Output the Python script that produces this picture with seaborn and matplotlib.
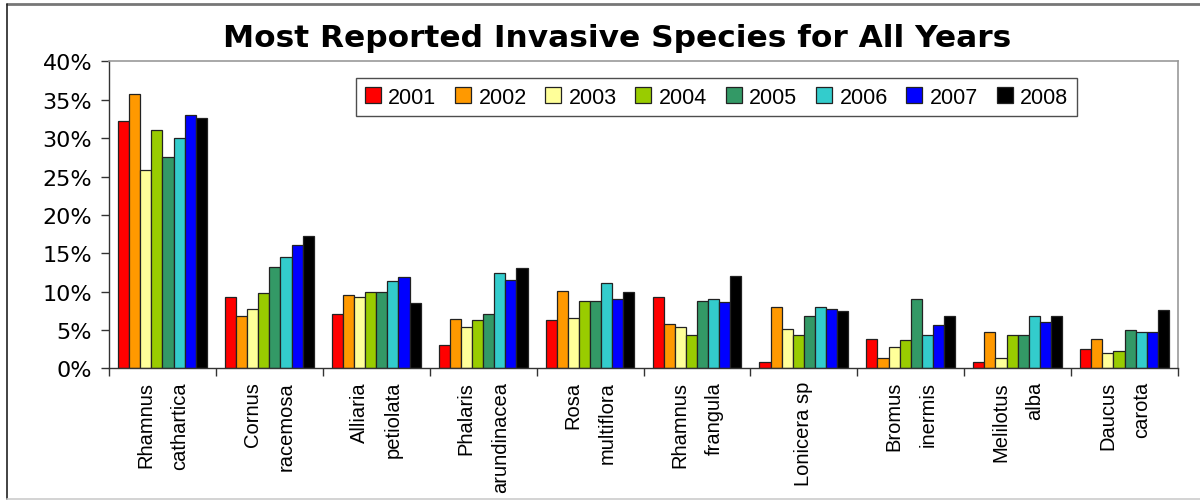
import matplotlib
matplotlib.use("Agg")
import matplotlib.pyplot as plt
import seaborn as sns
import pandas as pd
from matplotlib.lines import Line2D
from matplotlib.ticker import FuncFormatter

# Species (two-line labels as printed under the axis)
SPECIES = [
    "Rhamnus\ncathartica",
    "Cornus\nracemosa",
    "Alliaria\npetiolata",
    "Phalaris\narundinacea",
    "Rosa\nmultiflora",
    "Rhamnus\nfrangula",
    "Lonicera sp",
    "Bromus\ninermis",
    "Melilotus\nalba",
    "Daucus\ncarota",
]

YEARS = ["2001", "2002", "2003", "2004", "2005", "2006", "2007", "2008"]

# Percent of reports per species, one list per year
Y2001 = [32.3, 9.3, 7.1, 3.1, 6.3, 9.3, 0.8, 3.8, 0.8, 2.5]
Y2002 = [35.7, 6.8, 9.6, 6.4, 10.1, 5.8, 8.0, 1.3, 4.7, 3.8]
Y2003 = [25.8, 7.8, 9.3, 5.4, 6.6, 5.4, 5.1, 2.8, 1.3, 2.0]
Y2004 = [31.1, 9.8, 10.0, 6.3, 8.8, 4.4, 4.4, 3.7, 4.3, 2.3]
Y2005 = [27.6, 13.2, 10.0, 7.1, 8.8, 8.8, 6.8, 9.0, 4.3, 5.0]
Y2006 = [30.0, 14.5, 11.4, 12.4, 11.1, 9.1, 8.0, 4.3, 6.8, 4.7]
Y2007 = [33.0, 16.1, 11.9, 11.5, 9.1, 8.6, 7.8, 5.7, 6.1, 4.7]
Y2008 = [32.6, 17.3, 8.5, 13.1, 9.9, 12.1, 7.5, 6.8, 6.8, 7.6]

COLORS = ["#FF0000", "#FF9900", "#FFFF99", "#99CC00",
          "#339966", "#33CCCC", "#0000FF", "#000000"]


def build_frame():
    """Long-format table for seaborn."""
    rows = []
    for year, vals in zip(YEARS, [Y2001, Y2002, Y2003, Y2004,
                                  Y2005, Y2006, Y2007, Y2008]):
        for sp, v in zip(SPECIES, vals):
            rows.append({"species": sp, "year": year, "pct": v})
    return pd.DataFrame(rows)


def main():
    sns.set_style("white")
    plt.rcParams["font.family"] = ["Liberation Sans", "DejaVu Sans"]
    plt.rcParams["text.color"] = "black"
    plt.rcParams["xtick.color"] = "black"
    plt.rcParams["ytick.color"] = "black"

    df = build_frame()

    fig = plt.figure(figsize=(12, 5.02), dpi=100)
    ax = fig.add_axes([0.0908, 0.264, 0.8909, 0.6115])

    sns.barplot(data=df, x="species", y="pct", hue="year", order=SPECIES,
                hue_order=YEARS, palette=COLORS, width=0.83, saturation=1,
                edgecolor="#222222", linewidth=0.9, ax=ax)

    ax.set_ylim(0, 40)
    ax.set_xlim(-0.5, len(SPECIES) - 0.5)
    ax.set_yticks(range(0, 41, 5))
    ax.yaxis.set_major_formatter(FuncFormatter(lambda v, p: f"{int(v)}%"))
    ax.tick_params(axis="y", left=True, length=6, width=1, pad=6,
                   labelsize=16, color="#333333")
    for lab in ax.get_yticklabels():
        lab.set_family(["DejaVu Sans"])
    ax.set_xlabel("")
    ax.set_ylabel("")

    # tick marks between groups, labels at group centres
    ax.set_xticks([i - 0.5 for i in range(len(SPECIES) + 1)])
    ax.set_xticklabels([])
    ax.tick_params(axis="x", which="major", bottom=True, length=6,
                   width=1, color="#333333")
    ax.set_xticks(range(len(SPECIES)), SPECIES, minor=True)
    ax.tick_params(axis="x", which="minor", length=0, pad=9)
    for lab in ax.get_xticklabels(minor=True):
        lab.set_rotation(90)
        lab.set_ha("center")
        lab.set_va("top")
        lab.set_multialignment("right")
        lab.set_fontsize(14.5)
        lab.set_linespacing(2.0)

    for side in ["left", "bottom"]:
        ax.spines[side].set_color("#333333")
        ax.spines[side].set_linewidth(1)
    for side in ["top", "right"]:
        ax.spines[side].set_color("#999999")
        ax.spines[side].set_linewidth(1.2)
        ax.spines[side].set_visible(True)

    leg = ax.legend(loc="lower left", bbox_to_anchor=(0.231, 0.822, 0.6745, 0.114),
                    mode="expand", ncol=8, fontsize=15.5, frameon=True,
                    fancybox=False, handlelength=0.75, handleheight=0.75,
                    handletextpad=0.35, borderaxespad=0, columnspacing=0.3,
                    borderpad=0.4)
    leg.get_frame().set_edgecolor("#222222")
    leg.get_frame().set_linewidth(1)

    fig.text(0.514, 0.924, "Most Reported Invasive Species for All Years",
             ha="center", va="center", fontsize=22.5, fontweight="bold",
             family=["DejaVu Sans"])

    # frame of the pasted chart
    fig.add_artist(Line2D([0.0058, 1.0], [0.991, 0.991], color="#777777",
                          linewidth=2, transform=fig.transFigure))
    fig.add_artist(Line2D([0.0058, 0.0058], [0.004, 0.991], color="#222222",
                          linewidth=1.2, transform=fig.transFigure))
    fig.add_artist(Line2D([0.0058, 1.0], [0.004, 0.004], color="#cccccc",
                          linewidth=1.2, transform=fig.transFigure))

    fig.savefig("out.png", dpi=100)
    plt.close(fig)


if __name__ == "__main__":
    main()
